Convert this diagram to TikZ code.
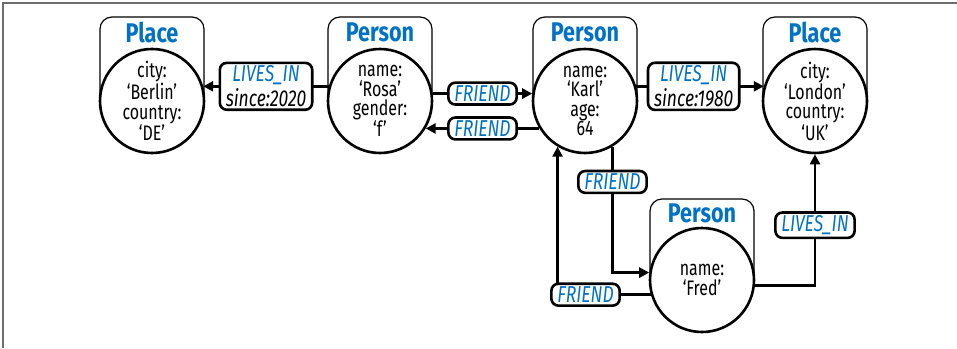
\documentclass[tikz,border=0pt]{standalone}
\usepackage{fontspec}
\setmainfont[FakeStretch=0.76]{Fira Sans}
\newfontfamily\headfont[FakeStretch=0.8]{Fira Sans}
\usetikzlibrary{calc}
\usetikzlibrary{arrows.meta}
\definecolor{relblue}{RGB}{0,114,198}
\definecolor{framegray}{RGB}{110,110,110}

\begin{document}
\begin{tikzpicture}[x=1pt, y=-1pt,
    entity/.style={circle, draw, line width=2.6pt, fill=white, minimum size=104pt, inner sep=0pt, align=center, font=\fontsize{21}{19.5}\selectfont},
    tab/.style={draw, line width=1.2pt, rounded corners=12pt},
    head/.style={text=relblue, font=\headfont\fontsize{27}{27}\selectfont\bfseries},
    rel/.style={draw, line width=2.6pt, rounded corners=7pt, fill=white, inner xsep=6pt, inner ysep=3pt, align=center, font=\fontsize{23}{24.5}\selectfont\itshape},
    edge/.style={line width=2.6pt, -{Triangle[length=10pt, width=10pt]}}]
\useasboundingbox (0,0) rectangle (957,348);
\draw[framegray, line width=2pt] (3,348) -- (3,3) -- (957,3);

% label tabs
\draw[tab] (100,101) -- (100,17) -- (204,17) -- (204,101);
\draw[tab] (328,101) -- (328,17) -- (432,17) -- (432,101);
\draw[tab] (533,101) -- (533,17) -- (637,17) -- (637,101);
\draw[tab] (763,101) -- (763,17) -- (867,17) -- (867,101);
\draw[tab] (650,280) -- (650,199) -- (754,199) -- (754,280);

\node[head] (berlinhead) at (152,32) {Place};
\node[head] (rosahead) at (380,32) {Person};
\node[head] (karlhead) at (585,32) {Person};
\node[head] (londonhead) at (815,32) {Place};
\node[head] (fredhead) at (702,213) {Person};

% vertices
\node[entity] (berlin) at (152,101) {city:\\‘Berlin’\\country:\\‘DE’};
\node[entity] (rosa) at (380,101) {name:\\‘Rosa’\\gender:\\‘f’};
\node[entity] (karl) at (585,101) {name:\\‘Karl’\\age:\\64};
\node[entity] (london) at (815,101) {city:\\‘London’\\country:\\‘UK’};
\node[entity] (fred) at (702,280) {name:\\‘Fred’};

% edges
\draw[edge] (rosa.164) -- node[rel] (rosalives) {\textcolor{relblue}{LIVES\_IN}\\since:2020} (berlin.16);
\draw[edge] (rosa.8) -- node[rel, text=relblue] (rosafriend) {FRIEND} (karl.172);
\draw[edge] (karl.211) -- node[rel, text=relblue] (karlfriend) {FRIEND} (rosa.329);
\draw[edge] (karl.16) -- node[rel, pos=0.45] (karllives) {\textcolor{relblue}{LIVES\_IN}\\since:1980} (london.164);
\draw[edge] (karl.301) |- node[rel, text=relblue, pos=0.14] (karlfred) {FRIEND} (fred.172);
\draw[edge] (fred.196) -| node[rel, text=relblue, pos=0.35] (fredkarl) {FRIEND} (karl.239);
\draw[edge] (fred.354) -| node[rel, text=relblue, pos=0.73] (fredlives) {LIVES\_IN} (london.south);
\end{tikzpicture}
\end{document}
